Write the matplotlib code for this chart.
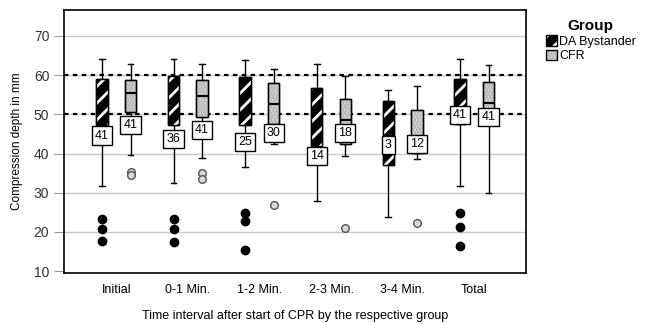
import matplotlib.pyplot as plt
import numpy as np
from matplotlib.patches import Patch, PathPatch

plt.rcParams['font.family'] = ['Liberation Sans', 'DejaVu Sans']
plt.rcParams['hatch.linewidth'] = 2.0

categories = ["Initial", "0-1 Min.", "1-2 Min.", "2-3 Min.", "3-4 Min.", "Total"]

# DA Bystander box statistics (mm)
da_whishi = [64.1, 64.1, 63.9, 62.8, 56.1, 64.1]
da_q3 = [59.1, 59.9, 59.5, 56.7, 53.4, 59.0]
da_med = [55.0, 53.0, 53.0, 48.0, 43.0, 51.0]
da_q1 = [47.3, 47.4, 47.2, 41.9, 37.2, 47.5]
da_whislo = [31.6, 32.5, 36.6, 27.8, 23.8, 31.7]
da_fliers = [[23.3, 20.7, 17.6], [23.3, 20.7, 17.4], [24.8, 22.7, 15.3], [], [], [24.8, 21.3, 16.5]]
da_n = [41, 36, 25, 14, 3, 41]
da_label_y = [44.6, 43.7, 43.0, 39.4, 42.2, 49.8]

# CFR box statistics (mm)
cfr_whishi = [62.9, 62.9, 61.6, 59.8, 57.2, 62.5]
cfr_q3 = [58.8, 58.8, 58.0, 53.9, 51.1, 58.2]
cfr_med = [55.5, 54.6, 52.6, 48.6, 44.5, 52.8]
cfr_q1 = [50.5, 49.3, 47.6, 42.4, 40.1, 47.3]
cfr_whislo = [39.6, 38.9, 42.4, 39.5, 38.5, 30.0]
cfr_fliers = [[35.3, 34.5], [35.1, 33.6], [26.8], [21.1], [22.3], []]
cfr_n = [41, 41, 30, 18, 12, 41]
cfr_label_y = [47.2, 46.1, 45.3, 45.3, 42.4, 49.3]

ref_lines = [50, 60]


def make_stats(lo, q1, med, q3, hi, fl):
    return [dict(whislo=a, q1=b, med=c, q3=d, whishi=e, fliers=f)
            for a, b, c, d, e, f in zip(lo, q1, med, q3, hi, fl)]


fig = plt.figure(figsize=(6.46, 3.24), dpi=100)
ax = fig.add_axes([0.099, 0.157, 0.716, 0.812])

x = np.arange(len(categories))
off = 0.2
width = 0.16

ax.set_ylim(9.5, 76.6)
ax.set_xlim(-0.73, len(categories) - 0.27)

for yv in [20, 30, 40, 50, 60, 70]:
    ax.axhline(yv, color='#c8c8c8', lw=1.0, zorder=0)
for yv in ref_lines:
    ax.axhline(yv, color='black', lw=1.6, ls=(0, (2, 2)), zorder=1)

common = dict(widths=width, patch_artist=True, manage_ticks=False,
              whiskerprops=dict(color='black', lw=1.0),
              capprops=dict(color='black', lw=1.0),
              medianprops=dict(color='black', lw=1.5),
              boxprops=dict(edgecolor='black', lw=1.0))

da = ax.bxp(make_stats(da_whislo, da_q1, da_med, da_q3, da_whishi, da_fliers),
            positions=x - off,
            flierprops=dict(marker='o', markerfacecolor='black', markeredgecolor='black',
                            markersize=6, linestyle='none'),
            **common)
cfr = ax.bxp(make_stats(cfr_whislo, cfr_q1, cfr_med, cfr_q3, cfr_whishi, cfr_fliers),
             positions=x + off,
             flierprops=dict(marker='o', markerfacecolor='#d8d8d8', markeredgecolor='#555555',
                             markersize=5.5, markeredgewidth=1.0, linestyle='none'),
             **common)

for b in da['boxes']:
    b.set_facecolor('black')
    b.set_zorder(3)
    ax.add_patch(PathPatch(b.get_path(), facecolor='none', edgecolor='white',
                           hatch='//', lw=0, zorder=3.1))
    ax.add_patch(PathPatch(b.get_path(), facecolor='none', edgecolor='black',
                           lw=1.0, zorder=3.2))

for b in cfr['boxes']:
    b.set_facecolor('#e8e8e8')
    b.set_zorder(3)
    ax.add_patch(PathPatch(b.get_path(), facecolor='none', edgecolor='#a8a8a8',
                           hatch='.....', lw=0, zorder=3.1))
    ax.add_patch(PathPatch(b.get_path(), facecolor='none', edgecolor='black',
                           lw=1.0, zorder=3.2))
for m in cfr['medians']:
    m.set_zorder(3.3)

# n labels
for xi, n, yl in zip(x - off, da_n, da_label_y):
    ax.text(xi, yl, str(n), ha='center', va='center', fontsize=9, zorder=5,
            bbox=dict(boxstyle='square,pad=0.25', facecolor='white', edgecolor='black', lw=1.0))
for xi, n, yl in zip(x + off, cfr_n, cfr_label_y):
    ax.text(xi, yl, str(n), ha='center', va='center', fontsize=9, zorder=5,
            bbox=dict(boxstyle='square,pad=0.25', facecolor='white', edgecolor='black', lw=1.0))

ax.set_xticks(x)
ax.set_xticklabels(categories, fontsize=9)
ax.tick_params(axis='x', length=0, pad=8)
ax.set_yticks([10, 20, 30, 40, 50, 60, 70])
ax.tick_params(axis='y', length=7, color='#999999', labelsize=10, labelcolor='#333333')
for s in ax.spines.values():
    s.set_linewidth(1.2)

ax.set_ylabel("Compression depth in mm", fontsize=8.5, labelpad=8)
ax.set_xlabel("Time interval after start of CPR by the respective group", fontsize=9, labelpad=10)

h_da = (Patch(facecolor='black', edgecolor='white', hatch='//', lw=0),
        Patch(facecolor='none', edgecolor='black', lw=1.0))
h_cfr = (Patch(facecolor='#e8e8e8', edgecolor='#a8a8a8', hatch='.....', lw=0),
         Patch(facecolor='none', edgecolor='black', lw=1.0))
leg = fig.legend([h_da, h_cfr], ["DA Bystander", "CFR"], loc='upper left',
                 bbox_to_anchor=(0.845, 0.94), frameon=False, fontsize=9,
                 title="Group", title_fontproperties=dict(weight='bold', size=11),
                 handlelength=0.9, handleheight=0.9, handletextpad=0.15,
                 labelspacing=0.15, borderaxespad=0, borderpad=0)
leg._legend_box.align = 'center'

fig.savefig('out.png', dpi=100)
